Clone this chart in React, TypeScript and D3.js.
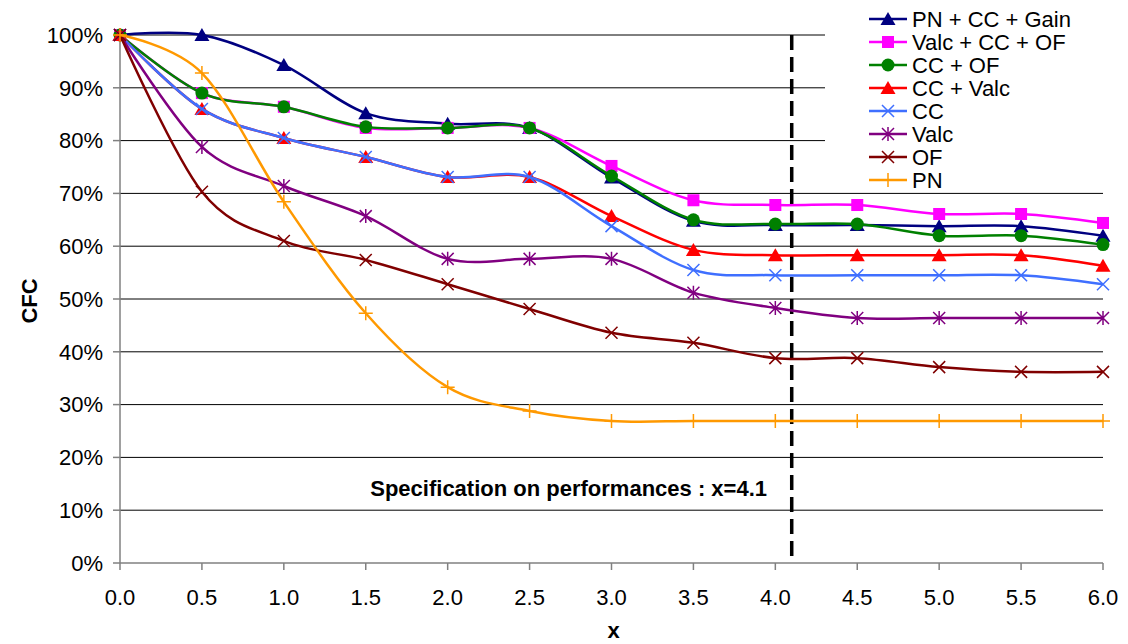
import React from "react";
import * as d3 from "d3";

const xValues = [0, 0.5, 1, 1.5, 2, 2.5, 3, 3.5, 4, 4.5, 5, 5.5, 6];
const xTicks = [0, 0.5, 1, 1.5, 2, 2.5, 3, 3.5, 4, 4.5, 5, 5.5, 6];
const yTicks = [0, 10, 20, 30, 40, 50, 60, 70, 80, 90, 100];

const seriesNames = ["PN + CC + Gain", "Valc + CC + OF", "CC + OF", "CC + Valc", "CC", "Valc", "OF", "PN"];
const seriesColors = ["#000080", "#FF00FF", "#008000", "#FF0000", "#3F6FFF", "#800080", "#800000", "#FF9900"];
const seriesMarkers = ["triangle", "square", "circle", "triangle", "x", "asterisk", "x", "plus"];

const pnCcGain = [100, 100, 94.3, 85.2, 83.2, 82.4, 73.0, 64.8, 64.0, 64.0, 63.8, 63.8, 62.0];
const valcCcOf = [100, 89.0, 86.4, 82.4, 82.4, 82.4, 75.2, 68.7, 67.8, 67.8, 66.1, 66.1, 64.4];
const ccOf = [100, 89.0, 86.4, 82.6, 82.4, 82.4, 73.3, 65.0, 64.2, 64.2, 62.0, 62.0, 60.3];
const ccValc = [100, 86.0, 80.5, 76.9, 73.1, 73.1, 65.7, 59.3, 58.3, 58.3, 58.3, 58.3, 56.3];
const cc = [100, 86.0, 80.5, 76.9, 73.1, 73.1, 63.8, 55.5, 54.5, 54.5, 54.5, 54.5, 52.8];
const valc = [100, 78.8, 71.4, 65.7, 57.6, 57.6, 57.6, 51.2, 48.3, 46.4, 46.4, 46.4, 46.4];
const of = [100, 70.3, 61.0, 57.4, 52.8, 48.1, 43.6, 41.7, 38.8, 38.8, 37.1, 36.2, 36.2];
const pn = [100, 92.8, 68.4, 47.3, 33.3, 28.8, 26.9, 26.9, 26.9, 26.9, 26.9, 26.9, 26.9];

const seriesValues = [pnCcGain, valcCcOf, ccOf, ccValc, cc, valc, of, pn];

const specX = 4.1;
const specLabel = "Specification on performances : x=4.1";

const FONT = "'Liberation Sans', Arial, sans-serif";

function Marker({ type, x, y, color }: { type: string; x: number; y: number; color: string }) {
  const s = 6;
  if (type === "triangle") {
    return <path d={`M${x},${y - 7} L${x + 7.5},${y + 6} L${x - 7.5},${y + 6} Z`} fill={color} />;
  }
  if (type === "square") {
    return <rect x={x - 6} y={y - 6} width={12} height={12} fill={color} />;
  }
  if (type === "circle") {
    return <circle cx={x} cy={y} r={6.5} fill={color} />;
  }
  if (type === "x") {
    return (
      <path d={`M${x - s},${y - s} L${x + s},${y + s} M${x - s},${y + s} L${x + s},${y - s}`} stroke={color} strokeWidth={1.5} fill="none" />
    );
  }
  if (type === "asterisk") {
    return (
      <path
        d={`M${x - s},${y - s} L${x + s},${y + s} M${x - s},${y + s} L${x + s},${y - s} M${x},${y - 7} L${x},${y + 7}`}
        stroke={color}
        strokeWidth={1.5}
        fill="none"
      />
    );
  }
  // plus
  return <path d={`M${x - 7},${y} L${x + 7},${y} M${x},${y - 7} L${x},${y + 7}`} stroke={color} strokeWidth={1.5} fill="none" />;
}

export default function App() {
  const width = 1128;
  const height = 644;
  const left = 120;
  const right = 1103;
  const top = 35;
  const bottom = 563;

  const x = d3.scaleLinear().domain([0, 6]).range([left, right]);
  const y = d3.scaleLinear().domain([0, 100]).range([bottom, top]);

  const line = d3
    .line<number>()
    .x((_, i) => x(xValues[i]))
    .y((d) => y(d))
    .curve(d3.curveCardinal.tension(0));

  const legendX = 869;
  const legendY0 = 19;
  const legendDy = 23;

  return (
    <svg width={width} height={height} style={{ position: "absolute", left: 0, top: 0, background: "#fff" }} fontFamily={FONT}>
      <rect x={0} y={0} width={width} height={height} fill="#fff" />
      {/* gridlines */}
      {yTicks.filter((t) => t > 0).map((t) => (
        <line key={t} x1={left} x2={right} y1={y(t)} y2={y(t)} stroke="#000" strokeWidth={1} />
      ))}
      {/* axes */}
      <line x1={left} x2={left} y1={top} y2={bottom} stroke="#808080" strokeWidth={1.5} />
      <line x1={left} x2={right} y1={bottom} y2={bottom} stroke="#808080" strokeWidth={1.5} />
      {yTicks.map((t) => (
        <g key={"yt" + t}>
          <line x1={left - 7} x2={left} y1={y(t)} y2={y(t)} stroke="#808080" strokeWidth={1.5} />
          <text x={103} y={y(t)} dy="0.35em" textAnchor="end" fontSize={22} fill="#000">
            {t + "%"}
          </text>
        </g>
      ))}
      {xTicks.map((t) => (
        <g key={"xt" + t}>
          <line x1={x(t)} x2={x(t)} y1={bottom} y2={bottom + 7} stroke="#808080" strokeWidth={1.5} />
          <text x={x(t)} y={597} dy="0.35em" textAnchor="middle" fontSize={22} fill="#000">
            {t.toFixed(1)}
          </text>
        </g>
      ))}
      <text transform={`translate(29,${(top + bottom) / 2 + 2}) rotate(-90)`} textAnchor="middle" dy="0.35em" fontSize={22} fontWeight="bold">
        CFC
      </text>
      <text x={(left + right) / 2 + 2} y={638} textAnchor="middle" fontSize={22} fontWeight="bold">
        x
      </text>

      {/* spec line */}
      <line x1={x(specX)} x2={x(specX)} y1={top} y2={bottom - 5} stroke="#000" strokeWidth={3.5} strokeDasharray="15,7" />
      <text x={767} y={488} dy="0.35em" textAnchor="end" fontSize={22} fontWeight="bold">
        {specLabel}
      </text>

      {/* series */}
      {seriesValues.map((vals, si) => (
        <g key={"s" + si}>
          <path d={line(vals) || ""} fill="none" stroke={seriesColors[si]} strokeWidth={2.5} />
          {vals.map((v, i) => (
            <Marker key={i} type={seriesMarkers[si]} x={x(xValues[i])} y={y(v)} color={seriesColors[si]} />
          ))}
        </g>
      ))}

      {/* legend */}
      <rect x={825} y={0} width={303} height={190} fill="#fff" />
      {seriesNames.map((name, i) => {
        const ly = legendY0 + i * legendDy;
        return (
          <g key={"lg" + i}>
            <line x1={legendX} x2={legendX + 38} y1={ly} y2={ly} stroke={seriesColors[i]} strokeWidth={2.5} />
            <Marker type={seriesMarkers[i]} x={legendX + 19} y={ly} color={seriesColors[i]} />
            <text x={912} y={ly} dy="0.35em" fontSize={22} fill="#000">
              {name}
            </text>
          </g>
        );
      })}
    </svg>
  );
}
